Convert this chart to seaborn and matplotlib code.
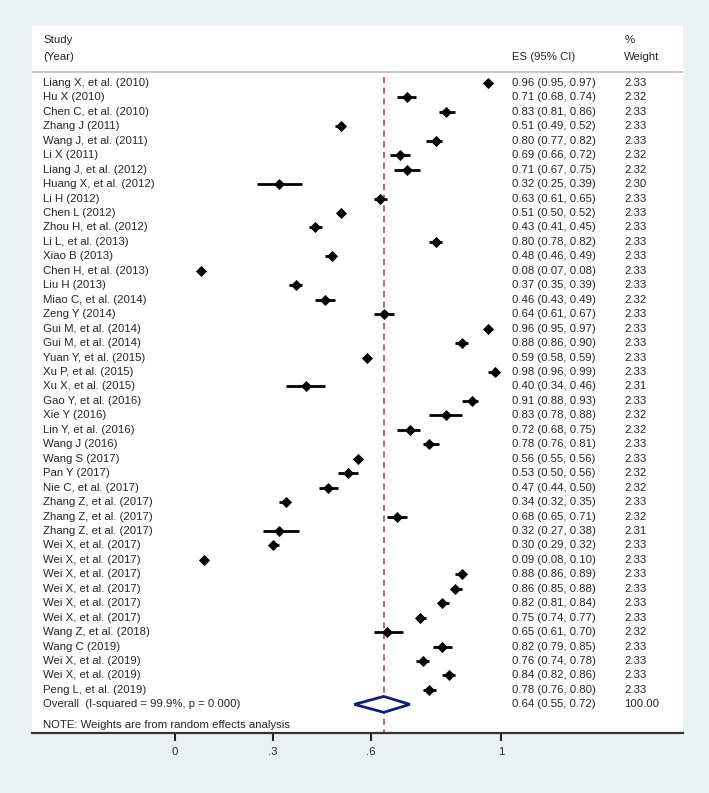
import pandas as pd
import matplotlib.pyplot as plt
import seaborn as sns

# Study data
studies = [
    "Liang X, et al. (2010)", "Hu X (2010)", "Chen C, et al. (2010)", "Zhang J (2011)",
    "Wang J, et al. (2011)", "Li X (2011)", "Liang J, et al. (2012)", "Huang X, et al. (2012)",
    "Li H (2012)", "Chen L (2012)", "Zhou H, et al. (2012)", "Li L, et al. (2013)",
    "Xiao B (2013)", "Chen H, et al. (2013)", "Liu H (2013)", "Miao C, et al. (2014)",
    "Zeng Y (2014)", "Gui M, et al. (2014)", "Gui M, et al. (2014)", "Yuan Y, et al. (2015)",
    "Xu P, et al. (2015)", "Xu X, et al. (2015)", "Gao Y, et al. (2016)", "Xie Y (2016)",
    "Lin Y, et al. (2016)", "Wang J (2016)", "Wang S (2017)", "Pan Y (2017)",
    "Nie C, et al. (2017)", "Zhang Z, et al. (2017)", "Zhang Z, et al. (2017)", "Zhang Z, et al. (2017)",
    "Wei X, et al. (2017)", "Wei X, et al. (2017)", "Wei X, et al. (2017)", "Wei X, et al. (2017)",
    "Wei X, et al. (2017)", "Wei X, et al. (2017)", "Wang Z, et al. (2018)", "Wang C (2019)",
    "Wei X, et al. (2019)", "Wei X, et al. (2019)", "Peng L, et al. (2019)",
]
es = [0.96, 0.71, 0.83, 0.51, 0.80, 0.69, 0.71, 0.32, 0.63, 0.51, 0.43, 0.80, 0.48, 0.08,
      0.37, 0.46, 0.64, 0.96, 0.88, 0.59, 0.98, 0.40, 0.91, 0.83, 0.72, 0.78, 0.56, 0.53,
      0.47, 0.34, 0.68, 0.32, 0.30, 0.09, 0.88, 0.86, 0.82, 0.75, 0.65, 0.82, 0.76, 0.84, 0.78]
lower = [0.95, 0.68, 0.81, 0.49, 0.77, 0.66, 0.67, 0.25, 0.61, 0.50, 0.41, 0.78, 0.46, 0.07,
         0.35, 0.43, 0.61, 0.95, 0.86, 0.58, 0.96, 0.34, 0.88, 0.78, 0.68, 0.76, 0.55, 0.50,
         0.44, 0.32, 0.65, 0.27, 0.29, 0.08, 0.86, 0.85, 0.81, 0.74, 0.61, 0.79, 0.74, 0.82, 0.76]
upper = [0.97, 0.74, 0.86, 0.52, 0.82, 0.72, 0.75, 0.39, 0.65, 0.52, 0.45, 0.82, 0.49, 0.08,
         0.39, 0.49, 0.67, 0.97, 0.90, 0.59, 0.99, 0.46, 0.93, 0.88, 0.75, 0.81, 0.56, 0.56,
         0.50, 0.35, 0.71, 0.38, 0.32, 0.10, 0.89, 0.88, 0.84, 0.77, 0.70, 0.85, 0.78, 0.86, 0.80]
weights = [2.33, 2.32, 2.33, 2.33, 2.33, 2.32, 2.32, 2.30, 2.33, 2.33, 2.33, 2.33, 2.33, 2.33,
           2.33, 2.32, 2.33, 2.33, 2.33, 2.33, 2.33, 2.31, 2.33, 2.32, 2.32, 2.33, 2.33, 2.32,
           2.32, 2.33, 2.32, 2.31, 2.33, 2.33, 2.33, 2.33, 2.33, 2.33, 2.32, 2.33, 2.33, 2.33, 2.33]

overall_es, overall_lo, overall_hi = 0.64, 0.55, 0.72
overall_label = "Overall  (I-squared = 99.9%, p = 0.000)"
tick_values = [0, 0.3, 0.6, 1]
tick_labels = ["0", ".3", ".6", "1"]

df = pd.DataFrame({"Study": studies, "ES": es, "Lower": lower, "Upper": upper, "Weight": weights})
df["Row"] = range(len(df))
n = len(df)

sns.set_theme(style="white")
plt.rcParams["font.family"] = ["Liberation Sans", "DejaVu Sans"]

bg = "#e9f1f3"
fig = plt.figure(figsize=(7.09, 7.93), dpi=100, facecolor=bg)
ax = fig.add_axes([32 / 709, (793 - 733) / 793, (683 - 32) / 709, (733 - 26) / 793])
ax.set_facecolor("white")

fs = 8.2

# confidence intervals + point estimates
ax.hlines(df["Row"], df["Lower"], df["Upper"], color="black", lw=2, zorder=3)
sns.scatterplot(data=df, x="ES", y="Row", marker="D", s=32, color="black",
                edgecolor="black", linewidth=0, ax=ax, zorder=4)

# overall diamond
oy = n
ax.fill([overall_lo, overall_es, overall_hi, overall_es, overall_lo],
        [oy, oy - 0.55, oy, oy + 0.55, oy], facecolor="white", edgecolor="#121c7c",
        lw=2, zorder=5)

# reference line at overall estimate
ax.plot([overall_es, overall_es], [-0.4, 50], color="#c0334a", lw=1.1,
        ls=(0, (4, 3)), zorder=2)

x_study, x_es, x_w = -0.405, 1.033, 1.378
for _, r in df.iterrows():
    ax.text(x_study, r["Row"], r["Study"], va="center", ha="left", fontsize=fs)
    ax.text(x_es, r["Row"], f"{r['ES']:.2f} ({r['Lower']:.2f}, {r['Upper']:.2f})",
            va="center", ha="left", fontsize=fs)
    ax.text(x_w, r["Row"], f"{r['Weight']:.2f}", va="center", ha="left", fontsize=fs)

ax.text(x_study, oy, overall_label, va="center", ha="left", fontsize=fs)
ax.text(x_es, oy, f"{overall_es:.2f} ({overall_lo:.2f}, {overall_hi:.2f})",
        va="center", ha="left", fontsize=fs)
ax.text(x_w, oy, "100.00", va="center", ha="left", fontsize=fs)
ax.text(x_study, n + 1.43, "NOTE: Weights are from random effects analysis",
        va="center", ha="left", fontsize=fs)

# header
ax.text(x_study, -2.98, "Study", va="center", ha="left", fontsize=fs)
ax.text(x_study, -1.80, "(Year)", va="center", ha="left", fontsize=fs)
ax.text(x_es, -1.80, "ES (95% CI)", va="center", ha="left", fontsize=fs)
ax.text(x_w, -2.98, "%", va="center", ha="left", fontsize=fs)
ax.text(x_w, -1.80, "Weight", va="center", ha="left", fontsize=fs)
ax.axhline(-0.76, color="#bdbdbd", lw=1.2)

ax.set_xlim(-0.439, 1.558)
ax.set_ylim(44.98, -3.94)
ax.set_xticks(tick_values)
ax.set_xticklabels(tick_labels, fontsize=fs)
ax.set_yticks([])
ax.set_xlabel("")
ax.set_ylabel("")
for side in ["top", "left", "right"]:
    ax.spines[side].set_visible(False)
ax.spines["bottom"].set_color("#333333")
ax.spines["bottom"].set_linewidth(1.6)
ax.tick_params(axis="x", direction="out", length=6, width=1.5, color="#222222",
               pad=4, bottom=True)

fig.savefig("out.png", dpi=100, facecolor=bg)
